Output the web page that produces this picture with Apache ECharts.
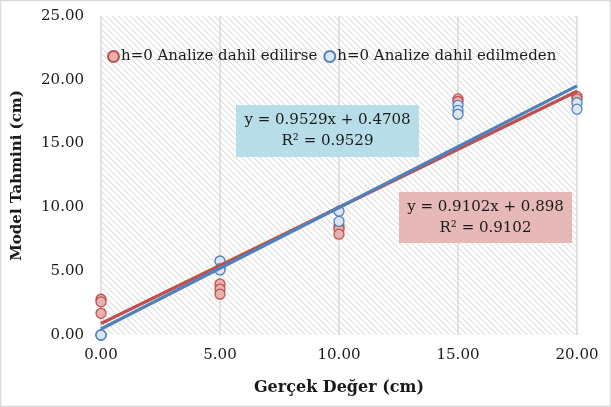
<!DOCTYPE html>
<html><head><meta charset="utf-8">
<script src="https://cdn.jsdelivr.net/npm/echarts@6/dist/echarts.min.js"></script>
<style>html,body{margin:0;padding:0;background:#fff}#c{width:611px;height:407px}</style>
</head><body><div id="c"></div>
<script>
// ---- data ----
const redX = [0, 0, 0, 5, 5, 5, 10, 10, 10, 15, 15, 20, 20];
const redY = [2.8, 2.6, 1.7, 4.0, 3.6, 3.2, 8.5, 8.3, 7.9, 18.5, 18.3, 18.7, 18.5];
const blueX = [0, 0, 0, 5, 5, 5, 10, 10, 15, 15, 15, 20, 20];
const blueY = [0, 0, 0, 5.8, 5.2, 5.1, 9.7, 8.9, 18.0, 17.6, 17.3, 18.2, 17.7];
const redFit = { slope: 0.9102, intercept: 0.898, r2: 0.9102 };
const blueFit = { slope: 0.9529, intercept: 0.4708, r2: 0.9529 };
const fitRange = [0, 20];
const seriesNames = ['h=0 Analize dahil edilirse', 'h=0 Analize dahil edilmeden'];
const xTicks = [0, 5, 10, 15, 20];
const yTicks = [0, 5, 10, 15, 20, 25];
const xTitle = 'Gerçek Değer (cm)';
const yTitle = 'Model Tahmini (cm)';

const FONT = 'DejaVu Serif';
const zip = (a, b) => a.map((v, i) => [v, b[i]]);
const fitLine = f => fitRange.map(x => [x, f.slope * x + f.intercept]);
const eqText = f => 'y = ' + f.slope + 'x + ' + f.intercept + '\nR\u00B2 = ' + f.r2;

// hatch pattern (diagonal "\" lines)
const P = 6;
const pc = document.createElement('canvas');
pc.width = P; pc.height = P;
const g = pc.getContext('2d');
g.fillStyle = '#ffffff'; g.fillRect(0, 0, P, P);
for (let y = 0; y < P; y++) for (let x = 0; x < P; x++) {
  const d = ((x - y) % P + P) % P;
  if (d === 0) { g.fillStyle = '#dcdcdc'; g.fillRect(x, y, 1, 1); }
  else if (d === 1) { g.fillStyle = '#f4f4f4'; g.fillRect(x, y, 1, 1); }
}

const chart = echarts.init(document.getElementById('c'), null, { renderer: 'canvas' });
chart.setOption({
  animation: false,
  grid: { left: 101, right: 34, top: 16, bottom: 72, show: true, borderWidth: 0,
          backgroundColor: { image: pc, repeat: 'repeat' } },
  legend: {
    data: seriesNames, left: 102, top: 44, icon: 'circle', itemWidth: 11, itemHeight: 11, itemGap: 6,
    textStyle: { fontFamily: FONT, fontSize: 15, color: '#1a1a1a', padding: [0, 0, 0, -3] }
  },
  xAxis: {
    type: 'value', min: xTicks[0], max: xTicks[xTicks.length - 1], interval: 5,
    name: xTitle, nameLocation: 'middle', nameGap: 45,
    nameTextStyle: { fontFamily: FONT, fontSize: 16, fontWeight: 'bold', color: '#1a1a1a' },
    axisLine: { show: false }, axisTick: { show: false },
    axisLabel: { formatter: v => v.toFixed(2), fontFamily: FONT, fontSize: 15, color: '#1a1a1a', margin: 13 },
    splitLine: { show: true, lineStyle: { color: '#d9d9d9', width: 1.5 } }
  },
  yAxis: {
    type: 'value', min: yTicks[0], max: yTicks[yTicks.length - 1], interval: 5,
    name: yTitle, nameLocation: 'middle', nameGap: 76, nameRotate: 90,
    nameTextStyle: { fontFamily: FONT, fontSize: 15, fontWeight: 'bold', color: '#1a1a1a' },
    axisLine: { show: false }, axisTick: { show: false },
    axisLabel: { formatter: v => v.toFixed(2), fontFamily: FONT, fontSize: 15, color: '#1a1a1a', margin: 17 },
    splitLine: { show: false }
  },
  series: [
    { name: seriesNames[0], type: 'scatter', data: zip(redX, redY), symbolSize: 10, z: 2,
      itemStyle: { color: '#e6b1b0', borderColor: '#c0504d', borderWidth: 1.3, opacity: 1 } },
    { name: seriesNames[1], type: 'scatter', data: zip(blueX, blueY), symbolSize: 10, z: 3,
      itemStyle: { color: '#dce6f2', borderColor: '#4f81bd', borderWidth: 1.3, opacity: 1 } },
    { name: 'redFit', type: 'line', data: fitLine(redFit), symbol: 'none', z: 4, silent: true,
      lineStyle: { color: '#c0504d', width: 3.2 } },
    { name: 'blueFit', type: 'line', data: fitLine(blueFit), symbol: 'none', z: 5, silent: true,
      lineStyle: { color: '#4f81bd', width: 3.2 } }
  ],
  graphic: [
    { type: 'rect', z: 100, shape: { x: 0.5, y: 0.5, width: 610, height: 406 }, style: { fill: 'none', stroke: '#d9d9d9', lineWidth: 1.5 } },
    { type: 'rect', z: 50, shape: { x: 236, y: 105, width: 183, height: 52 }, style: { fill: '#b7dee8' } },
    { type: 'text', z: 51, x: 327.5, y: 131, style: { text: eqText(blueFit), align: 'center', verticalAlign: 'middle',
        font: '15px "' + FONT + '"', fill: '#1a1a1a', lineHeight: 21 } },
    { type: 'rect', z: 50, shape: { x: 399, y: 192, width: 173, height: 51 }, style: { fill: '#e6b9b8' } },
    { type: 'text', z: 51, x: 485.5, y: 218, style: { text: eqText(redFit), align: 'center', verticalAlign: 'middle',
        font: '15px "' + FONT + '"', fill: '#1a1a1a', lineHeight: 21 } }
  ]
});
</script></body></html>
